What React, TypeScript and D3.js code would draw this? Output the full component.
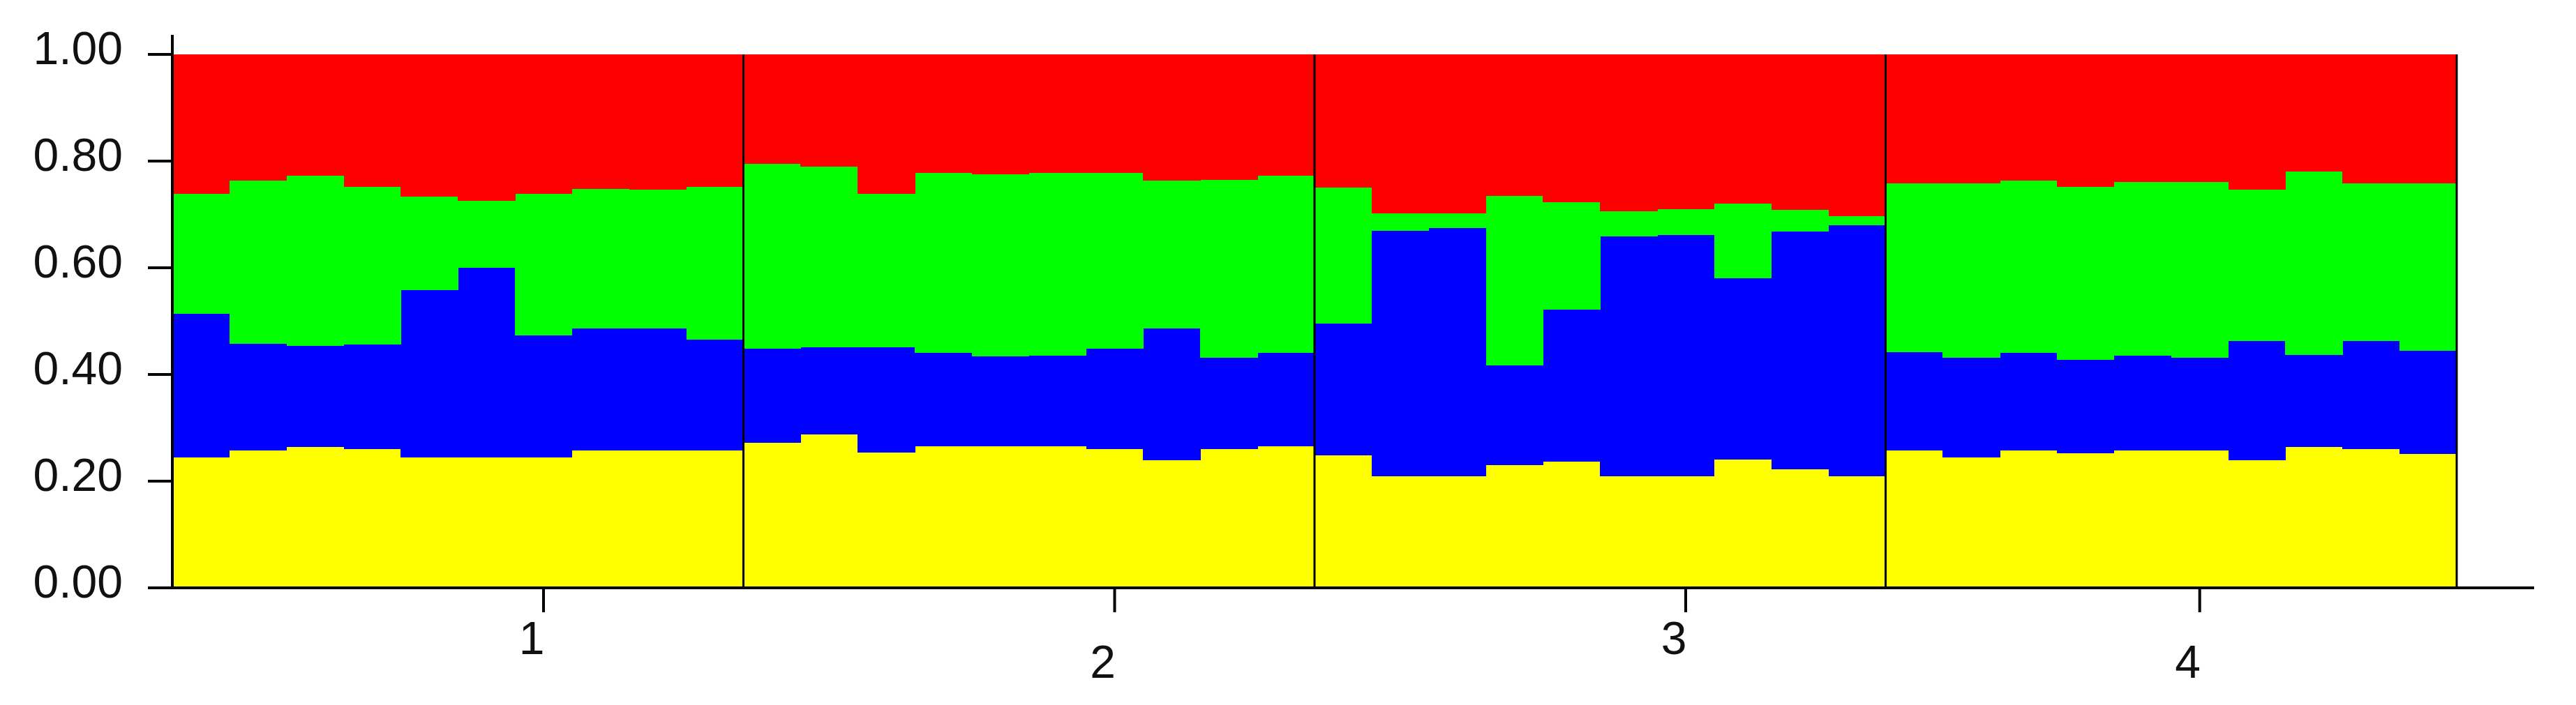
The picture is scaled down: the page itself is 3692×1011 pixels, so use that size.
import React from "react";
import * as d3 from "d3";

const clusters = ["yellow", "blue", "green", "red"];
const clusterColors = ["#FFFF00", "#0000FF", "#00FF00", "#FF0000"];

// Q values per individual (10 per population, 4 populations)
const yellowQ = [
  0.245, 0.258, 0.264, 0.26, 0.245, 0.245, 0.245, 0.258, 0.258, 0.258,
  0.272, 0.287, 0.254, 0.265, 0.265, 0.265, 0.26, 0.239, 0.26, 0.266,
  0.249, 0.209, 0.209, 0.23, 0.237, 0.209, 0.209, 0.241, 0.222, 0.209,
  0.258, 0.245, 0.258, 0.252, 0.258, 0.258, 0.239, 0.264, 0.26, 0.251,
];
const blueQ = [
  0.269, 0.2, 0.19, 0.196, 0.313, 0.355, 0.228, 0.228, 0.228, 0.207,
  0.176, 0.164, 0.197, 0.175, 0.169, 0.17, 0.188, 0.247, 0.171, 0.174,
  0.247, 0.46, 0.465, 0.187, 0.285, 0.45, 0.453, 0.34, 0.446, 0.471,
  0.184, 0.186, 0.182, 0.175, 0.177, 0.173, 0.224, 0.173, 0.203, 0.193,
];
const greenQ = [
  0.224, 0.305, 0.318, 0.296, 0.175, 0.125, 0.265, 0.262, 0.26, 0.287,
  0.347, 0.338, 0.287, 0.338, 0.341, 0.343, 0.33, 0.277, 0.334, 0.333,
  0.254, 0.033, 0.028, 0.318, 0.201, 0.047, 0.048, 0.139, 0.04, 0.017,
  0.316, 0.327, 0.323, 0.325, 0.326, 0.33, 0.283, 0.343, 0.295, 0.314,
];
const redQ = [
  0.262, 0.237, 0.228, 0.248, 0.267, 0.275, 0.262, 0.252, 0.254, 0.248,
  0.205, 0.211, 0.262, 0.222, 0.225, 0.222, 0.222, 0.237, 0.235, 0.227,
  0.25, 0.298, 0.298, 0.265, 0.277, 0.294, 0.29, 0.28, 0.292, 0.303,
  0.242, 0.242, 0.237, 0.248, 0.239, 0.239, 0.254, 0.22, 0.242, 0.242,
];
const populationSizes = [10, 10, 10, 10];
const populationLabels = ["1", "2", "3", "4"];
// tick positions in individual units
const populationTickPos = [6.5, 16.5, 26.5, 35.5];
const yTicks = [0, 0.2, 0.4, 0.6, 0.8, 1.0];

export default function App() {
  const W = 3692;
  const H = 1011;
  const left = 247;
  const right = 3521;
  const top = 78;
  const bottom = 843;
  const n = yellowQ.length;

  const rows = yellowQ.map((_, i) => ({
    i,
    yellow: yellowQ[i],
    blue: blueQ[i],
    green: greenQ[i],
    red: redQ[i],
  }));
  const series = d3.stack<any>().keys(clusters)(rows);

  const x = d3.scaleLinear().domain([0, n]).range([left, right]);
  const y = d3.scaleLinear().domain([0, 1]).range([bottom, top]);

  const bounds: number[] = [];
  let acc = 0;
  populationSizes.forEach((s) => {
    acc += s;
    bounds.push(acc);
  });

  const font = "'Liberation Sans', Arial, sans-serif";

  return (
    <svg
      width={W}
      height={H}
      style={{ position: "absolute", left: 0, top: 0, background: "#fff" }}
    >
      <rect x={0} y={0} width={W} height={H} fill="#fff" />
      <g shapeRendering="crispEdges">
        {series.map((s, k) =>
          s.map((d, i) => (
            <rect
              key={`${k}-${i}`}
              x={x(i)}
              width={x(i + 1) - x(i) + 0.5}
              y={y(Math.min(1, d[1]))}
              height={y(d[0]) - y(Math.min(1, d[1]))}
              fill={clusterColors[k]}
            />
          ))
        )}
      </g>
      {bounds.map((b, i) => (
        <line
          key={`sep-${i}`}
          x1={x(b)}
          x2={x(b)}
          y1={top}
          y2={bottom}
          stroke="#000"
          strokeWidth={3}
        />
      ))}
      {/* y axis */}
      <line x1={left} x2={left} y1={50} y2={bottom + 2} stroke="#000" strokeWidth={4} />
      {yTicks.map((t) => (
        <g key={`yt-${t}`}>
          <line x1={212} x2={left} y1={y(t)} y2={y(t)} stroke="#000" strokeWidth={4} />
          <text
            x={176}
            y={y(t) + 14}
            textAnchor="end"
            fontFamily={font}
            fontSize={66}
            fill="#111"
          >
            {d3.format(".2f")(t)}
          </text>
        </g>
      ))}
      {/* x axis */}
      <line x1={212} x2={3632} y1={bottom} y2={bottom} stroke="#000" strokeWidth={4} />
      {populationTickPos.map((p, i) => (
        <g key={`xt-${i}`}>
          <line x1={x(p)} x2={x(p)} y1={bottom} y2={bottom + 35} stroke="#000" strokeWidth={4} />
          <text
            x={x(p) - 17}
            y={i % 2 === 0 ? 938 : 972}
            textAnchor="middle"
            fontFamily={font}
            fontSize={66}
            fill="#111"
          >
            {populationLabels[i]}
          </text>
        </g>
      ))}
    </svg>
  );
}
